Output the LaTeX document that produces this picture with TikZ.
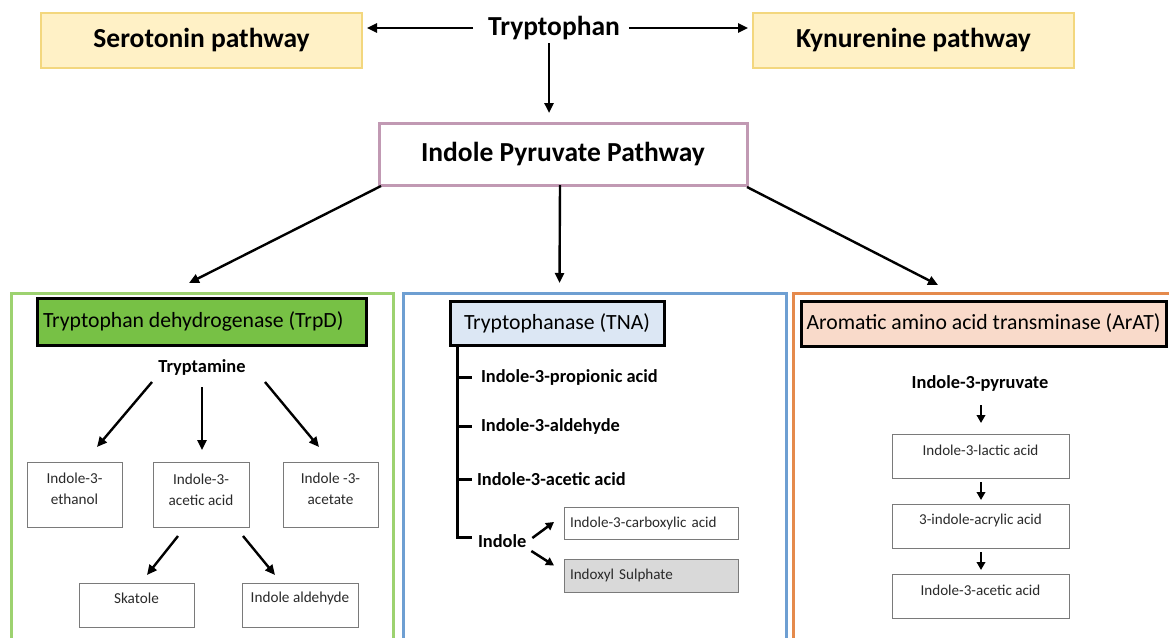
\documentclass[tikz,border=0pt]{standalone}
\usepackage{fontspec}
\setmainfont{Carlito}
\usetikzlibrary{arrows.meta,calc}
\definecolor{ylwfill}{HTML}{FFF1C6}
\definecolor{ylwdraw}{HTML}{F3D77E}
\definecolor{pinkdraw}{HTML}{C199B3}
\definecolor{gpanel}{HTML}{9DD270}
\definecolor{bpanel}{HTML}{6E9FD2}
\definecolor{opanel}{HTML}{E58A4C}
\definecolor{trpdfill}{HTML}{77C145}
\definecolor{tnafill}{HTML}{DCE7F4}
\definecolor{aratfill}{HTML}{F9DACA}
\definecolor{boxgray}{HTML}{7A7A7A}
\definecolor{sulfill}{HTML}{D9D9D9}
\definecolor{txtgray}{HTML}{2A2A2A}
\begin{document}
\begin{tikzpicture}[x=1pt,y=-1pt,
  every node/.style={inner sep=0pt, outer sep=0pt},
  arr/.style={line width=2.4pt, -{Triangle[length=10pt,width=9pt]}},
  sarr/.style={line width=2.5pt, -{Triangle[length=8pt,width=8.5pt]}},
  pathbox/.style={draw=ylwdraw, fill=ylwfill, line width=2.5pt, minimum width=321pt, minimum height=55pt, anchor=north west, font=\fontsize{27.5}{33}\selectfont\bfseries},
  bigtxt/.style={font=\fontsize{27.5}{33}\selectfont\bfseries},
  panel/.style={line width=3pt, minimum height=380pt, anchor=north west},
  ttl/.style={draw=black, line width=3pt, anchor=north west},
  ttltxt/.style={font=\fontsize{21.7}{26}\selectfont},
  med/.style={font=\fontsize{18.4}{22}\selectfont\bfseries},
  sbox/.style={draw=boxgray, line width=1pt, anchor=north west},
  stxt/.style={font=\fontsize{15.2}{21}\selectfont, text=txtgray, align=center},
  rtxt/.style={font=\fontsize{15.1}{18}\selectfont, text=txtgray},
  treeline/.style={line width=3pt}
]
\useasboundingbox (0,0) rectangle (1169,637);
\clip (0,0) rectangle (1169,637);
\fill[white] (0,0) rectangle (1169,637);

% top row
\node[pathbox] (sero) at (41,13) {Serotonin pathway};
\node[pathbox] (kyn) at (753,13) {Kynurenine pathway};
\node[bigtxt] (tryp) at (554,28) {Tryptophan};
\node[draw=pinkdraw, line width=3pt, minimum width=368pt, minimum height=62pt, anchor=north west, bigtxt] (ipp) at (379,123) {Indole Pyruvate Pathway};

\draw[arr] ($(tryp.west)+(-15,0)$) -- ($(sero.east)+(5,-12.5)$);
\draw[arr] ($(tryp.east)+(9,0)$) -- ($(kyn.west)+(-5,-12.5)$);
\draw[arr] ($(tryp.center)+(-5,15)$) -- ($(ipp.north)+(-14,-10)$);

% panels
\node[panel, draw=gpanel, minimum width=382pt] (gpan) at (11,293) {};
\node[panel, draw=bpanel, minimum width=383pt] (bpan) at (403,293) {};
\node[panel, draw=opanel, minimum width=400pt] (opan) at (793,293) {};

\draw[arr] ($(ipp.south west)+(2,1)$) -- ($(gpan.north)+(-13,-10)$);
\draw[arr] ($(ipp.south)+(-3,0)$) -- ($(bpan.north)+(-35,-10)$);
\draw[arr] ($(ipp.south east)+(0,2)$) -- ($(opan.north west)+(145,-8)$);

% titles
\node[ttl, fill=trpdfill, minimum width=329pt, minimum height=47pt] (trpd) at (37,298) {};
\node[ttltxt, anchor=west] (trpdt) at ($(trpd.west)+(6,0)$) {Tryptophan dehydrogenase (TrpD)};
\node[ttl, fill=tnafill, minimum width=214pt, minimum height=44pt, ttltxt] (tna) at (450,301) {Tryptophanase (TNA)};
\node[ttl, fill=aratfill, minimum width=365pt, minimum height=45pt, ttltxt] (arat) at (801,301) {Aromatic amino acid transminase (ArAT)};

% left panel
\node[med] (trpt) at (202,367) {Tryptamine};
\node[sbox, minimum width=95pt, minimum height=65pt] (eth) at (27,462) {};
\node[stxt] (etht) at ($(eth.center)+(0,-6)$) {Indole-3-\\ethanol};
\node[sbox, minimum width=96pt, minimum height=65pt] (iaa) at (153,462) {};
\node[stxt] (iaat) at ($(iaa.center)+(0,-5)$) {Indole-3-\\acetic acid};
\node[sbox, minimum width=95pt, minimum height=65pt] (ace) at (283,462) {};
\node[stxt] (acet) at ($(ace.center)+(0,-6)$) {Indole -3-\\acetate};
\node[sbox, minimum width=115pt, minimum height=44pt] (ska) at (79,583) {};
\node[stxt] (skat) at ($(ska.center)+(0,-7)$) {Skatole};
\node[sbox, minimum width=116pt, minimum height=44pt] (ald) at (242,583) {};
\node[stxt] (aldt) at ($(ald.center)+(0,-7)$) {Indole aldehyde};

\draw[arr] ($(trpt.center)+(-50,15)$) -- ($(eth.north)+(22.5,-15)$);
\draw[arr] ($(trpt.center)+(0,20)$) -- ($(iaa.north)+(1,-12)$);
\draw[arr] ($(trpt.center)+(63,15)$) -- ($(ace.north)+(-11.5,-15)$);
\draw[arr] ($(iaa.south)+(-23,9)$) -- ($(ska.north)+(10.5,-8)$);
\draw[arr] ($(iaa.south)+(42,9)$) -- ($(ald.north)+(-25,-8)$);

% middle panel
\node[med, anchor=west] (ipa) at (481,377) {Indole-3-propionic acid};
\node[med, anchor=west] (i3al) at (481,426) {Indole-3-aldehyde};
\node[med, anchor=west] (i3aa) at (477,479) {Indole-3-acetic acid};
\node[med, anchor=west] (indole) at (478,541) {Indole};
\coordinate (trunk) at ($(tna.south west)+(7,0)$);
\draw[treeline] (trunk) |- ($(indole.west)+(-6,-4)$);
\draw[treeline] (trunk |- ipa.west) -- ($(ipa.west)+(-9,0)$);
\draw[treeline] (trunk |- i3al.west) -- ($(i3al.west)+(-9,0)$);
\draw[treeline] (trunk |- i3aa.west) -- ($(i3aa.west)+(-5,0)$);
\node[sbox, minimum width=174pt, minimum height=32pt, text width=162pt, align=left, inner xsep=6pt, rtxt] (carb) at (564,507) {Indole-3-carboxylic acid};
\node[sbox, fill=sulfill, minimum width=174pt, minimum height=33pt, text width=162pt, align=left, inner xsep=6pt, rtxt] (sul) at (564,559) {Indoxyl Sulphate};
\draw[sarr] ($(indole.east)+(6,-3)$) -- ($(carb.west)+(-10,-1)$);
\draw[sarr] ($(indole.east)+(5,10)$) -- ($(sul.west)+(-10,-10)$);

% right panel
\node[med] (pyr) at (980,383) {Indole-3-pyruvate};
\node[sbox, minimum width=177pt, minimum height=44pt] (lac) at (892,434) {};
\node[rtxt] (lact) at ($(lac.center)+(0,-6)$) {Indole-3-lactic acid};
\node[sbox, minimum width=177pt, minimum height=44pt] (acr) at (892,504) {};
\node[rtxt] (acrt) at ($(acr.center)+(0,-6)$) {3-indole-acrylic acid};
\node[sbox, minimum width=177pt, minimum height=44pt] (ia) at (892,574) {};
\node[rtxt] (iat) at ($(ia.center)+(0,-6)$) {Indole-3-acetic acid};
\draw[sarr] ($(pyr.center)+(1,22)$) -- ($(lac.north)+(0.5,-11)$);
\draw[sarr] ($(lac.south)+(0.5,4)$) -- ($(acr.north)+(0.5,-4)$);
\draw[sarr] ($(acr.south)+(0.5,4)$) -- ($(ia.north)+(0.5,-4)$);
\end{tikzpicture}
\end{document}
